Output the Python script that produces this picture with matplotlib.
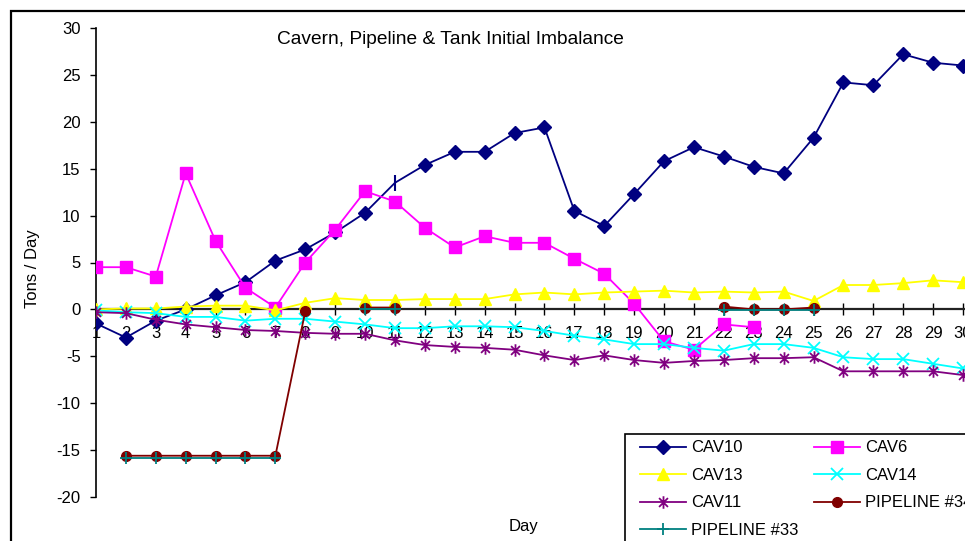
import numpy as np
import matplotlib
matplotlib.use("Agg")
import matplotlib.pyplot as plt
from matplotlib.path import Path
from matplotlib.patches import Rectangle

plt.rcParams['font.family'] = ['Liberation Sans', 'DejaVu Sans']
plt.rcParams['axes.unicode_minus'] = False

nan = np.nan
days = list(range(1, 31))

cav10 = [-1.5, -3.0, -1.2, 0.0, 1.5, 2.9, 5.2, 6.4, 8.2, 10.3,
         13.5, 15.4, 16.8, 16.8, 18.8, 19.4, 10.5, 8.9, 12.3, 15.8,
         17.3, 16.3, 15.2, 14.5, 18.3, 24.2, 23.9, 27.2, 26.3, 26.0]
cav6 = [4.5, 4.5, 3.5, 14.5, 7.3, 2.3, 0.2, 5.0, 8.5, 12.6,
        11.5, 8.7, 6.6, 7.8, 7.1, 7.1, 5.4, 3.8, 0.6, -3.4,
        -4.3, -1.6, -1.9, nan, nan, nan, nan, nan, nan, nan]
cav13 = [0.0, 0.1, 0.1, 0.3, 0.4, 0.4, -0.1, 0.7, 1.2, 1.0,
         1.0, 1.1, 1.1, 1.1, 1.6, 1.8, 1.6, 1.8, 1.9, 2.0,
         1.8, 1.9, 1.8, 1.9, 0.9, 2.6, 2.6, 2.8, 3.1, 2.9]
cav14 = [-0.1, -0.3, -0.4, -0.8, -0.8, -1.2, -1.0, -1.0, -1.3, -1.6,
         -2.0, -2.0, -1.8, -1.8, -1.9, -2.3, -2.8, -3.2, -3.7, -3.7,
         -4.1, -4.4, -3.7, -3.7, -4.1, -5.1, -5.3, -5.3, -5.8, -6.3]
cav11 = [-0.3, -0.4, -1.1, -1.6, -1.9, -2.2, -2.3, -2.5, -2.6, -2.6,
         -3.3, -3.8, -4.0, -4.1, -4.3, -4.9, -5.4, -4.9, -5.4, -5.7,
         -5.5, -5.4, -5.2, -5.2, -5.1, -6.6, -6.6, -6.6, -6.6, -7.0]
pipe34 = [nan, -15.6, -15.6, -15.6, -15.6, -15.6, -15.6, -0.2, nan, 0.2,
          0.2, nan, nan, nan, nan, nan, nan, nan, nan, nan,
          nan, 0.3, 0.0, 0.0, 0.2, nan, nan, nan, nan, nan]
pipe33 = [nan, -15.8, -15.8, -15.8, -15.8, -15.8, -15.8, nan, nan, 0.0,
          0.0, nan, nan, nan, nan, nan, nan, nan, nan, nan,
          nan, -0.1, -0.1, -0.1, -0.1, nan, nan, nan, nan, nan]

# asterisk marker: vertical bar plus an x
star = Path([(0, -1), (0, 1), (-0.71, -0.71), (0.71, 0.71), (-0.71, 0.71), (0.71, -0.71)],
            [Path.MOVETO, Path.LINETO] * 3)

W, H = 965, 541
fig = plt.figure(figsize=(W / 100, H / 100), dpi=100)
ax = fig.add_axes([96 / W, (H - 497) / H, (969 - 96) / W, (497 - 28) / H])

lw = 1.3
l10, = ax.plot(days, cav10, color='#000080', lw=lw, marker='D', ms=7.5,
               markevery=[i for i in range(30) if i != 10], label='CAV10', zorder=3)
ax.plot(days[10], cav10[10], color='#000080', marker='|', ms=11, mew=1.5, ls='none', zorder=3)
l6, = ax.plot(days, cav6, color='#FF00FF', lw=lw, marker='s', ms=9, label='CAV6', zorder=3)
l13, = ax.plot(days, cav13, color='#FFFF00', lw=lw, marker='^', ms=9, label='CAV13', zorder=3)
l14, = ax.plot(days, cav14, color='#00FFFF', lw=lw, marker='x', ms=8, mew=1.3, label='CAV14', zorder=3)
l11, = ax.plot(days, cav11, color='#800080', lw=lw, marker=star, ms=9, mew=1.3, mec='#800080',
               label='CAV11', zorder=3)
l34, = ax.plot(days, pipe34, color='#800000', lw=lw, marker='o', ms=7, label='PIPELINE #34', zorder=3)
l33, = ax.plot(days, pipe33, color='#008080', lw=lw, marker='+', ms=9, mew=1.3, label='PIPELINE #33',
               zorder=3)

ax.set_xlim(1, 30.2)
ax.set_ylim(-20, 30)
ax.set_yticks(range(-20, 31, 5))
ax.set_xticks(days)

for s in ['top', 'right']:
    ax.spines[s].set_visible(False)
ax.spines['bottom'].set_position(('data', 0))
ax.spines['bottom'].set_linewidth(1.6)
ax.spines['bottom'].set_color('#222222')
ax.spines['left'].set_linewidth(1.2)
ax.tick_params(axis='x', direction='inout', length=8, width=1, pad=8, labelsize=12)
ax.tick_params(axis='y', direction='out', length=4, width=1, pad=7, labelsize=12)

fig.text(33 / W, 1 - 269 / H, 'Tons / Day', rotation=90, ha='center', va='center', fontsize=12)
fig.text(524 / W, 1 - 526 / H, 'Day', ha='center', va='center', fontsize=12)
fig.text(450 / W, 1 - 39 / H, 'Cavern, Pipeline & Tank Initial Imbalance',
         ha='center', va='center', fontsize=13.8)

# chart frame and legend frame run past the figure edge
fig.patches.append(Rectangle((11 / W, -0.1), 1.2, 1.1 - 11 / H, transform=fig.transFigure,
                             fill=False, ec='black', lw=1.6))
fig.patches.append(Rectangle((625 / W, -0.1), 0.5, 0.1 + (H - 434) / H, transform=fig.transFigure,
                             fill=False, ec='black', lw=1.2, zorder=5))

# two columns filled row by row
order = [l10, l13, l11, l33, l6, l14, l34]
ax.legend(order, [h.get_label() for h in order], loc='upper left',
          bbox_to_anchor=(632 / W, 1 - 432 / H), bbox_transform=fig.transFigure,
          ncol=2, frameon=False, borderpad=0, fontsize=12, handlelength=2.75,
          handletextpad=0.3, columnspacing=0.95, labelspacing=0.75)

fig.savefig('out.png', dpi=100)
